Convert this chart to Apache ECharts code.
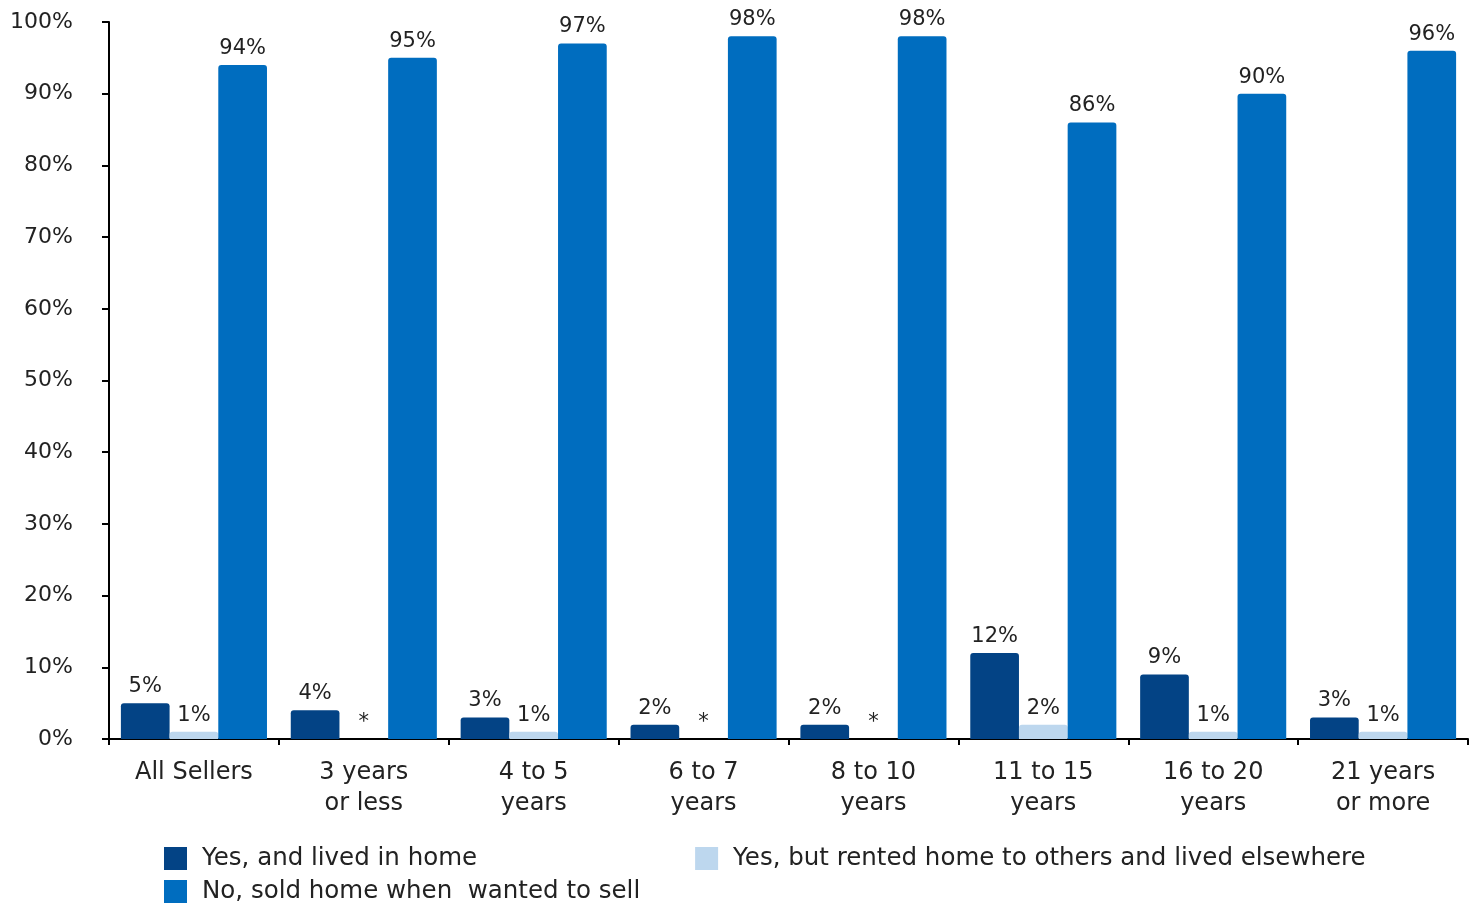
<!DOCTYPE html>
<html><head><meta charset="utf-8">
<script src="https://cdn.jsdelivr.net/npm/echarts@6/dist/echarts.min.js"></script>
<style>html,body{margin:0;padding:0;background:#fff}#c{width:1477px;height:906px}</style>
</head><body><div id="c"></div>
<script>
const categories = ['All Sellers', '3 years\nor less', '4 to 5\nyears', '6 to 7\nyears', '8 to 10\nyears', '11 to 15\nyears', '16 to 20\nyears', '21 years\nor more'];
const seriesNames = ['Yes, and lived in home', 'Yes, but rented home to others and lived elsewhere', 'No, sold home when  wanted to sell'];
const livedInHome = [5, 4, 3, 2, 2, 12, 9, 3];
const rentedToOthers = [1, 0, 1, 0, 0, 2, 1, 1];
const soldWhenWanted = [94, 95, 97, 98, 98, 86, 90, 96];
const yTicks = [0, 10, 20, 30, 40, 50, 60, 70, 80, 90, 100];
const colors = ['#034385', '#BDD7EE', '#006DBF'];

const FONT = '"DejaVu Sans", sans-serif';
const chart = echarts.init(document.getElementById('c'));
const label = {
  show: true, position: 'top', distance: 6, color: '#222', fontSize: 21, fontFamily: FONT,
  formatter: p => p.value === 0 ? '*' : p.value + '%'
};
const mk = (i, data) => ({
  name: seriesNames[i], type: 'bar', data: data, barGap: '0%', barCategoryGap: '14%',
  itemStyle: { color: colors[i], borderRadius: [3, 3, 0, 0] },
  label: label
});
chart.setOption({
  animation: false,
  textStyle: { fontFamily: FONT },
  grid: { left: 109, right: 9, top: 22, bottom: 167, containLabel: false },
  legend: [
    { data: [seriesNames[0], seriesNames[1]], left: 164, top: 846, padding: 0, itemWidth: 23, itemHeight: 23, itemGap: 218, icon: 'rect',
      textStyle: { fontSize: 24.5, color: '#222', fontFamily: FONT, padding: [0, 0, 0, 10] } },
    { data: [seriesNames[2]], left: 164, top: 879, padding: 0, itemWidth: 23, itemHeight: 23, icon: 'rect',
      textStyle: { fontSize: 24.5, color: '#222', fontFamily: FONT, padding: [0, 0, 0, 10] } }
  ],
  xAxis: {
    type: 'category', data: categories,
    axisLine: { lineStyle: { color: '#000', width: 2 } },
    axisTick: { show: true, alignWithLabel: false, length: 6, lineStyle: { color: '#000', width: 2 } },
    axisLabel: { color: '#222', fontSize: 24, fontFamily: FONT, margin: 18, lineHeight: 31, interval: 0 }
  },
  yAxis: {
    type: 'value', min: 0, max: 100, interval: 10,
    axisLine: { show: true, lineStyle: { color: '#000', width: 2 } },
    axisTick: { show: true, length: 7, lineStyle: { color: '#000', width: 2 } },
    splitLine: { show: false },
    axisLabel: { color: '#222', fontSize: 22, fontFamily: FONT, margin: 36, formatter: v => v + '%' }
  },
  series: [mk(0, livedInHome), mk(1, rentedToOthers), mk(2, soldWhenWanted)]
});
</script></body></html>
